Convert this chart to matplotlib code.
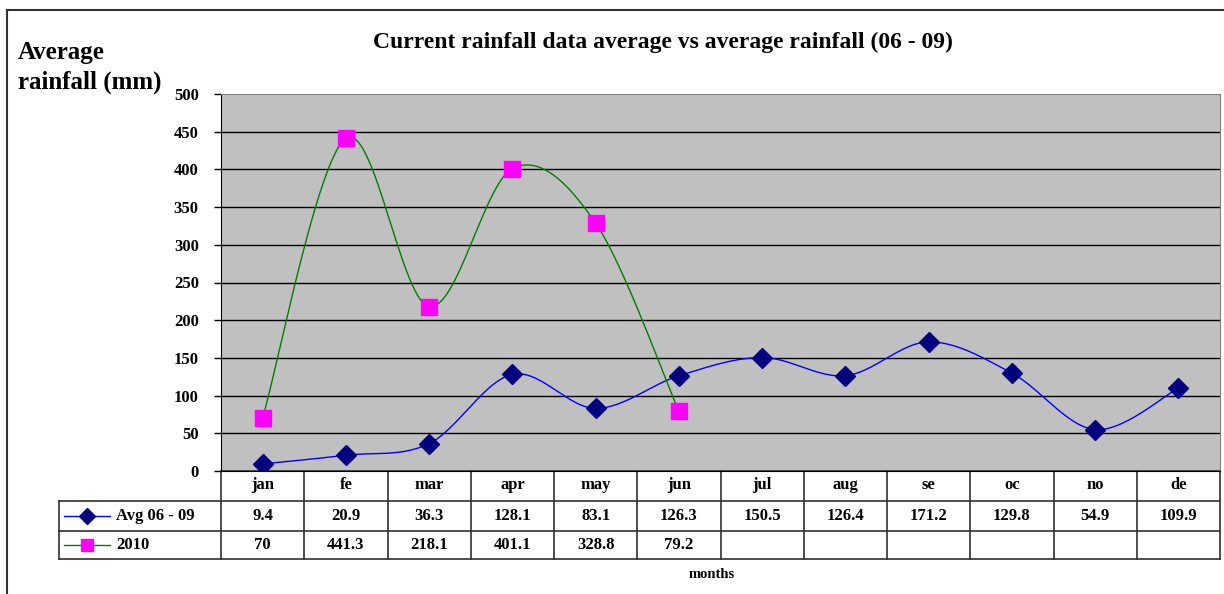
import numpy as np
import matplotlib.pyplot as plt

months = ['jan', 'fe', 'mar', 'apr', 'may', 'jun', 'jul', 'aug', 'se', 'oc', 'no', 'de']
avg_06_09 = [9.4, 20.9, 36.3, 128.1, 83.1, 126.3, 150.5, 126.4, 171.2, 129.8, 54.9, 109.9]
rain_2010 = [70, 441.3, 218.1, 401.1, 328.8, 79.2]
avg_text = ['9.4', '20.9', '36.3', '128.1', '83.1', '126.3', '150.5', '126.4', '171.2', '129.8', '54.9', '109.9']
r2010_text = ['70', '441.3', '218.1', '401.1', '328.8', '79.2']
yticks = [0, 50, 100, 150, 200, 250, 300, 350, 400, 450, 500]

plt.rcParams['font.family'] = ['Liberation Serif', 'DejaVu Serif']
plt.rcParams['font.weight'] = 'bold'

W, H = 1224, 594


def smooth(xs, ys, n=30):
    # Excel-like smoothed line (bezier through the points)
    xs = np.asarray(xs, float)
    ys = np.asarray(ys, float)
    px = np.concatenate([[xs[0]], xs, [xs[-1]]])
    py = np.concatenate([[ys[0]], ys, [ys[-1]]])
    ox, oy = [], []
    t = np.linspace(0, 1, n)
    for i in range(1, len(px) - 2):
        p0, p1, p2, p3 = [np.array([px[j], py[j]]) for j in (i - 1, i, i + 1, i + 2)]
        c1 = p1 + (p2 - p0) / 6
        c2 = p2 - (p3 - p1) / 6
        b = ((1 - t) ** 3)[:, None] * p1 + (3 * (1 - t) ** 2 * t)[:, None] * c1 \
            + (3 * (1 - t) * t ** 2)[:, None] * c2 + (t ** 3)[:, None] * p2
        ox.extend(b[:, 0])
        oy.extend(b[:, 1])
    return ox, oy


fig = plt.figure(figsize=(W / 100, H / 100), dpi=100)
x0, x1, ytop, ybot = 221, 1220, 94, 471
ax = fig.add_axes([x0 / W, 1 - ybot / H, (x1 - x0) / W, (ybot - ytop) / H])
ax.set_facecolor('#c0c0c0')

x = np.arange(len(months))
sx, sy = smooth(x, avg_06_09)
ax.plot(sx, sy, color='#0000ff', lw=1, zorder=3)
ax.plot(x, avg_06_09, ls='none', marker='D', ms=10, color='#000080', zorder=4)
x2 = np.arange(len(rain_2010))
sx, sy = smooth(x2, rain_2010)
ax.plot(sx, sy, color='#008000', lw=1, zorder=3)
ax.plot(x2, rain_2010, ls='none', marker='s', ms=11, color='#ff00ff', zorder=4)

ax.set_xlim(-0.5, len(months) - 0.5)
ax.set_ylim(0, 500)
ax.set_yticks(yticks)
ax.set_yticklabels([str(v) for v in yticks], fontsize=12, fontweight='bold')
ax.tick_params(axis='y', length=5, width=1, pad=11)
ax.set_xticks([])
for v in yticks[1:-1]:
    ax.axhline(v, color='black', lw=1, zorder=2)
for s in ['top', 'right']:
    ax.spines[s].set_color('#808080')
ax.spines['left'].set_color('black')
ax.spines['bottom'].set_color('black')

fig.text(663 / W, 1 - 42 / H, 'Current rainfall data average vs average rainfall (06 - 09)',
         ha='center', va='center', fontsize=17, fontweight='bold')

# data table under the plot
trans = ax.get_xaxis_transform()
step = (x1 - x0) / len(months)


def fy(py):
    return (ybot - py) / (ybot - ytop)


left = -0.5 - (x0 - 59) / step
right = len(months) - 0.5
lc = '#303030'
kw = dict(transform=trans, clip_on=False, color=lc, lw=1.2)
ax.plot([-0.5, right], [fy(471)] * 2, **kw)
for py in (501, 531, 559):
    ax.plot([left, right], [fy(py)] * 2, **kw)
ax.plot([left, left], [fy(501), fy(559)], **kw)
for i in range(len(months) + 1):
    ax.plot([i - 0.5] * 2, [fy(471), fy(559)], **kw)

tk = dict(transform=trans, ha='center', va='center', fontsize=12, fontweight='bold', clip_on=False)
for i, m in enumerate(months):
    ax.text(i, fy(485), m, **tk)
for i, s in enumerate(avg_text):
    ax.text(i, fy(516), s, **tk)
for i, s in enumerate(r2010_text):
    ax.text(i, fy(545), s, **tk)

# legend keys inside the table
lx0 = left + 5 / step
lx1 = left + 51 / step
lxm = (lx0 + lx1) / 2
ax.plot([lx0, lx1], [fy(516)] * 2, transform=trans, clip_on=False, color='#0000ff', lw=1)
ax.plot([lxm], [fy(516)], transform=trans, clip_on=False, marker='D', ms=8, color='#000080')
ax.plot([lx0, lx1], [fy(545)] * 2, transform=trans, clip_on=False, color='#008000', lw=1)
ax.plot([lxm], [fy(545)], transform=trans, clip_on=False, marker='s', ms=8, color='#ff00ff')
ax.text(left + 57 / step, fy(516), 'Avg 06 - 09', transform=trans, ha='left', va='center',
        fontsize=12, fontweight='bold', clip_on=False)
ax.text(left + 57 / step, fy(545), '2010', transform=trans, ha='left', va='center',
        fontsize=12, fontweight='bold', clip_on=False)

fig.text(712 / W, 1 - 574 / H, 'months', ha='center', va='center', fontsize=10.5, fontweight='bold')
fig.text(18 / W, 1 - 53 / H, 'Average', ha='left', va='center', fontsize=18, fontweight='bold')
fig.text(18 / W, 1 - 82 / H, 'rainfall (mm)', ha='left', va='center', fontsize=18, fontweight='bold')

# outer chart border
fig.add_artist(plt.Line2D([7 / W, 7 / W], [0, 1 - 10 / H], color='#333333', lw=1.5))
fig.add_artist(plt.Line2D([7 / W, 1], [1 - 10 / H, 1 - 10 / H], color='#333333', lw=1.5))

fig.savefig('out.png', dpi=100)
